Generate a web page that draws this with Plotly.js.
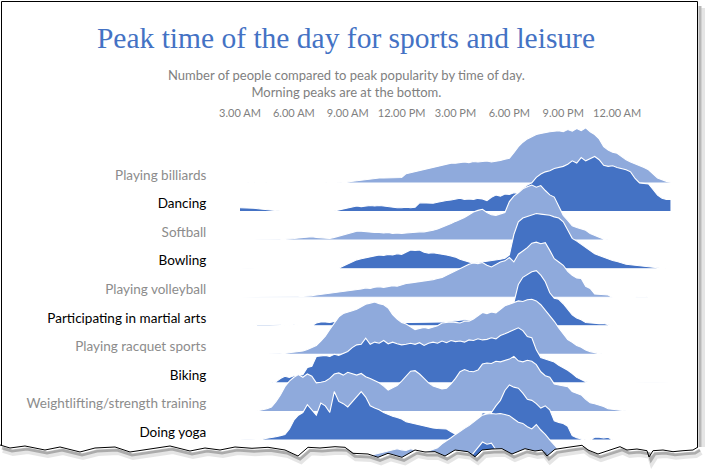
<!DOCTYPE html>
<html><head><meta charset="utf-8">
<script src="https://cdn.plot.ly/plotly-3.0.1.min.js"></script>
<style>html,body{margin:0;padding:0;background:#fff}</style>
</head><body><div id="chart" style="width:710px;height:471px"></div>
<script>
// time of day in hours (3 = 3 AM, 27 = 3 AM next day)
const hours = [3,3.25,3.5,3.75,4,4.25,4.5,4.75,5,5.25,5.5,5.75,6,6.25,6.5,6.75,7,7.25,7.5,7.75,8,8.25,8.5,8.75,9,9.25,9.5,9.75,10,10.25,10.5,10.75,11,11.25,11.5,11.75,12,12.25,12.5,12.75,13,13.25,13.5,13.75,14,14.25,14.5,14.75,15,15.25,15.5,15.75,16,16.25,16.5,16.75,17,17.25,17.5,17.75,18,18.25,18.5,18.75,19,19.25,19.5,19.75,20,20.25,20.5,20.75,21,21.25,21.5,21.75,22,22.25,22.5,22.75,23,23.25,23.5,23.75,24,24.25,24.5,24.75,25,25.25,25.5,25.75,26,26.25,26.5,26.75,27];

const activities = ["Playing billiards","Dancing","Softball","Bowling","Playing volleyball","Participating in martial arts","Playing racquet sports","Biking","Weightlifting/strength training","Doing yoga"];

const tickHours = [3,6,9,12,15,18,21,24];
const tickLabels = ["3.00 AM","6.00 AM","9.00 AM","12.00 PM","3.00 PM","6.00 PM","9.00 PM","12.00 AM"];

// share of peak popularity (0..1), quarter-hour steps
const billiards = [0.02,0.02,0,0, 0.02,0.02,0,0, 0,0,0,0, 0,0,0,0, 0,0,0,0, 0.02,0.02,0,0.01, 0.02,0.03,0.05,0.06, 0.07,0.08,0.085,0.09, 0.09,0.095,0.1,0.1, 0.1,0.17,0.19,0.21, 0.23,0.25,0.27,0.29, 0.31,0.33,0.34,0.36, 0.36,0.37,0.38,0.37, 0.39,0.38,0.39,0.40, 0.38,0.39,0.41,0.43, 0.45,0.55,0.66,0.74, 0.80,0.84,0.88,0.90, 0.92,0.93,0.94,0.95, 0.93,0.97,0.94,0.99, 0.95,1.0,0.93,0.88, 0.80,0.66,0.60,0.56, 0.54,0.48,0.42,0.38, 0.35,0.32,0.28,0.24, 0.16,0.09,0.06,0.03, 0.02];
const dancing = [0.07,0.07,0.06,0.06, 0.05,0.04,0.03,0.02, 0.02,0,0,0, 0,0,0,0, 0,0,0,0, 0,0.01,0.03,0.05, 0.06,0.08,0.1,0.09, 0.1,0.11,0.1,0.11, 0.1,0.09,0.07,0.07, 0.07,0.08,0.07,0.08, 0.16,0.16,0.16,0.15, 0.17,0.19,0.2,0.21, 0.23,0.24,0.22,0.23, 0.22,0.24,0.23,0.2, 0.26,0.3,0.28,0.32, 0.31,0.34,0.33,0.42, 0.48,0.52,0.62,0.68, 0.72,0.74,0.78,0.8, 0.82,0.86,0.92,0.88, 0.98,0.92,0.96,1.0, 0.94,0.84,0.82,0.83, 0.8,0.78,0.76,0.72, 0.6,0.52,0.51,0.5, 0.4,0.3,0.24,0.22, 0.22];
const softball = [0,0,0,0, 0,0,0,0, 0,0.01,0.02,0.02, 0.03,0.04,0.05,0.05, 0.06,0.05,0.04,0.03, 0.03,0.05,0.07,0.09, 0.11,0.13,0.16,0.16, 0.15,0.15,0.14,0.14, 0.13,0.14,0.12,0.13, 0.12,0.13,0.14,0.14, 0.15,0.15,0.16,0.18, 0.2,0.23,0.26,0.3, 0.34,0.37,0.41,0.46, 0.51,0.54,0.56,0.5, 0.46,0.45,0.47,0.5, 0.7,0.8,0.86,0.93, 0.97,1.0,0.96,0.99, 0.9,0.82,0.78,0.62, 0.45,0.36,0.26,0.23, 0.21,0.18,0.12,0.08, 0.05,0.02,0,0, 0,0,0,0, 0,0,0,0, 0,0,0,0, 0];
const bowling = [0,0,0,0, 0,0,0,0, 0,0,0,0, 0,0,0,0, 0,0,0,0, 0,0,0.01,0.05, 0.09,0.13,0.16,0.18, 0.2,0.22,0.24,0.25, 0.24,0.26,0.25,0.27, 0.26,0.3,0.34,0.33, 0.34,0.3,0.28,0.29, 0.28,0.27,0.25,0.23, 0.21,0.17,0.14,0.12, 0.1,0.11,0.12,0.14, 0.15,0.16,0.17,0.19, 0.25,0.62,0.85,0.92, 0.95,0.98,1.0,0.99, 0.98,0.97,0.94,0.92, 0.85,0.7,0.55,0.5, 0.44,0.39,0.33,0.27, 0.24,0.21,0.17,0.15, 0.13,0.1,0.08,0.07, 0.06,0.05,0.04,0.03, 0.02,0.01,0,0, 0];
const volleyball = [0,0,0,0, 0,0,0,0, 0,0,0,0, 0,0.01,0.02,0.02, 0.03,0.04,0.05,0.06, 0.07,0.08,0.09,0.1, 0.11,0.12,0.14,0.15, 0.17,0.16,0.18,0.19, 0.18,0.2,0.21,0.2, 0.23,0.25,0.26,0.27, 0.29,0.3,0.3,0.32, 0.34,0.36,0.4,0.44, 0.47,0.52,0.56,0.6, 0.62,0.61,0.63,0.58, 0.55,0.6,0.64,0.66, 0.72,0.64,0.78,0.84, 0.9,0.98,1.0,0.97, 0.99,0.85,0.7,0.64, 0.58,0.47,0.4,0.35, 0.34,0.2,0.16,0.06, 0.05,0.05,0.04,0, 0,0,0,0, 0,0.02,0.02,0, 0,0,0,0, 0];
const martialArts = [0,0,0,0, 0.03,0.03,0.03,0.02, 0.03,0.02,0,0, 0.02,0,0,0, 0,0.05,0.07,0.07, 0.06,0.08,0.1,0.12, 0.14,0.15,0.15,0.14, 0.13,0.12,0.1,0.09, 0.08,0.07,0.06,0.07, 0.06,0.06,0.06,0.06, 0.06,0.06,0.07,0.06, 0.07,0.07,0.08,0.08, 0.09,0.1,0.11,0.1, 0.12,0.14,0.16,0.18, 0.2,0.22,0.26,0.3, 0.34,0.42,0.75,0.88, 0.93,0.98,1.0,0.92, 0.8,0.6,0.5,0.48, 0.4,0.3,0.2,0.14, 0.11,0.06,0.05,0.04, 0.04,0.04,0.02,0, 0,0,0,0, 0,0,0,0, 0,0,0,0, 0];
const racquet = [0,0,0,0, 0,0,0,0, 0,0.01,0.02,0.03, 0.04,0.05,0.06,0.09, 0.12,0.16,0.24,0.33, 0.45,0.56,0.68,0.74, 0.76,0.79,0.82,0.87, 0.91,0.93,0.95,0.92, 0.9,0.84,0.72,0.64, 0.58,0.55,0.5,0.45, 0.47,0.49,0.47,0.49, 0.52,0.57,0.58,0.59, 0.58,0.57,0.6,0.6, 0.64,0.7,0.76,0.74, 0.77,0.75,0.82,0.88, 0.91,0.94,0.97,0.96, 0.99,1.0,0.97,0.9, 0.8,0.72,0.6,0.48, 0.37,0.27,0.22,0.16, 0.13,0.08,0.05,0.03, 0.01,0,0,0, 0,0,0,0, 0,0,0,0, 0,0,0,0, 0];
const biking = [0,0,0,0, 0,0,0,0, 0.02,0.08,0.12,0.1, 0.13,0.14,0.15,0.28, 0.3,0.48,0.49,0.5, 0.48,0.52,0.5,0.53, 0.57,0.64,0.69,0.7, 0.81,0.7,0.74,0.72, 0.77,0.71,0.74,0.71, 0.69,0.7,0.72,0.7, 0.73,0.68,0.72,0.74, 0.72,0.76,0.73,0.77, 0.75,0.76,0.74,0.78, 0.77,0.8,0.78,0.79, 0.82,0.8,0.86,0.89, 0.93,0.97,1.0,0.95, 0.84,0.82,0.6,0.46, 0.43,0.4,0.38,0.32, 0.28,0.23,0.17,0.1, 0.06,0.02,0.01,0.01, 0.01,0.01,0,0, 0,0,0,0, 0,0,0,0, 0,0,0,0, 0];
const weightlifting = [0.01,0,0,0, 0.01,0.03,0.05,0.08, 0.18,0.3,0.45,0.55, 0.62,0.67,0.62,0.68, 0.64,0.52,0.53,0.55, 0.6,0.68,0.7,0.66, 0.71,0.69,0.66,0.69, 0.63,0.6,0.56,0.52, 0.46,0.39,0.43,0.47, 0.55,0.65,0.73,0.74, 0.68,0.6,0.52,0.46, 0.43,0.41,0.42,0.5, 0.6,0.72,0.76,0.73, 0.72,0.75,0.86,0.88, 0.87,0.91,0.9,0.93, 0.95,1.0,0.92,0.9, 0.93,0.91,0.85,0.72, 0.65,0.62,0.5,0.48, 0.46,0.45,0.36,0.33, 0.3,0.22,0.16,0.14, 0.12,0.09,0.05,0.04, 0.03,0.01,0,0, 0,0.01,0.01,0, 0.01,0.01,0.01,0.01, 0];
const yoga = [0,0,0,0, 0.01,0.02,0.03,0.05, 0.06,0.08,0.1,0.2, 0.36,0.45,0.5,0.64, 0.55,0.45,0.67,0.62, 0.5,0.88,0.7,0.66, 0.6,0.7,0.8,0.88, 0.78,0.62,0.58,0.55, 0.5,0.46,0.43,0.41, 0.38,0.33,0.31,0.29, 0.28,0.26,0.23,0.22, 0.21,0.2,0.2,0.15, 0.1,0.06,0.05,0.1, 0.2,0.35,0.5,0.48, 0.5,0.62,0.72,0.9, 1.0,0.96,0.94,0.85, 0.74,0.72,0.66,0.58, 0.62,0.55,0.35,0.32, 0.3,0.25,0.08,0.04, 0.02,0,0,0.05, 0.05,0.04,0.05,0, 0,0,0,0, 0,0,0,0, 0,0,0,0, 0];
// rows continuing below the torn edge (only their peaks show)
const hiddenRow1 = [0,0,0,0, 0,0,0,0, 0,0,0,0, 0,0,0,0, 0,0.02,0.04,0.06, 0.08,0.1,0.12,0.14, 0.15,0.16,0.18,0.2, 0.22,0.24,0.26,0.28, 0.3,0.32,0.35,0.36, 0.34,0.33,0.36,0.34, 0.3,0.3,0.32,0.35, 0.38,0.45,0.5,0.56, 0.62,0.68,0.73,0.78, 0.84,0.9,0.97,0.99, 1.0,0.99,1.0,0.98, 0.96,0.9,0.84,0.82, 0.76,0.72,0.8,0.7, 0.62,0.52,0.42,0.34, 0.26,0.2,0.14,0.1, 0.06,0.03,0.01,0, 0,0,0,0, 0,0,0,0, 0,0,0,0, 0,0,0,0, 0];
const hiddenRow2 = [0,0,0,0, 0,0,0,0, 0,0,0,0, 0,0,0,0, 0,0,0,0, 0,0,0,0, 0,0,0,0, 0,0,0,0, 0,0,0,0, 0,0,0,0, 0,0,0,0, 0.2,0.25,0.3,0.38, 0.45,0.52,0.6,0.7, 0.8,0.92,1.0,0.96, 0.98,0.86,0.75,0.65, 0.55,0.48,0.42,0.36, 0.3,0.25,0.2,0.15, 0.1,0.06,0.03,0, 0,0,0,0, 0,0,0,0, 0,0,0,0, 0,0,0,0, 0,0,0,0, 0,0,0,0, 0];

const series = [billiards,dancing,softball,bowling,volleyball,martialArts,racquet,biking,weightlifting,yoga,hiddenRow1,hiddenRow2];

const LIGHT = '#8FAADC', DARK = '#4472C4';
const AMP = 1.93;   // ridge height in row units

const traces = series.map((vals, i) => {
  const base = -i;
  const x = hours.concat(hours.slice().reverse());
  const y = vals.map(v => base + AMP * v).concat(hours.map(() => base));
  return {type:'scatter', mode:'lines', x:x, y:y, fill:'toself',
    fillcolor: i % 2 ? DARK : LIGHT, line:{color:'#ffffff', width:1.1},
    hoverinfo:'skip', showlegend:false};
});

const W = 710, H = 471, L = 240, R = 39, T = 120, B = 11;
const pw = W - L - R, ph = H - T - B;
const px = x => (x - L) / pw;
const py = y => (H - B - y) / ph;
const toPath = (pts, close) => 'M' + pts.map(p => px(p[0]).toFixed(5) + ',' + py(p[1]).toFixed(5)).join('L') + (close ? 'Z' : '');

const torn = [[0,445],[10,448],[25,446],[45,450],[60,447],[80,452],[95,448],[115,447],[130,452],[150,449],[170,446],[190,451],[205,448],[220,450],[235,447],[252,448.3],[268,447.3],[285,450],[298,456],[308,447.3],[320,448],[335,446.7],[345,447.3],[353,453.3],[368,454],[378,457.3],[388,453.3],[402,457.3],[415,450],[425,452],[435,451.7],[445,456],[455,450],[468,451.7],[475,456.7],[482,450],[492,449],[502,448.7],[512,454],[525,448.7],[535,451],[542,450],[547,456],[555,449.3],[568,447.3],[582,445.3],[588,450],[598,454],[610,450],[620,446.7],[627,450],[637,449],[647,450.7],[649,457],[653,450.7],[663,450],[673,451.7],[683,450.7],[693,450],[698,447]];
const shifted = (dx, dy) => torn.map(p => [p[0] + dx, p[1] + dy]);
const cover = torn.concat([[712,447],[712,474],[-2,474],[-2,445]]);

const shapes = [
  {type:'rect', xref:'paper', yref:'paper', x0:px(698.5), x1:px(701.5), y0:py(6), y1:py(452), fillcolor:'rgba(0,0,0,0.28)', line:{width:0}, layer:'above'},
  {type:'rect', xref:'paper', yref:'paper', x0:px(701.5), x1:px(705), y0:py(8), y1:py(452), fillcolor:'rgba(0,0,0,0.10)', line:{width:0}, layer:'above'},
  {type:'rect', xref:'paper', yref:'paper', x0:px(1.5), x1:px(697.5), y0:py(1.5), y1:py(470), fillcolor:'rgba(0,0,0,0)', line:{color:'#000', width:1}, layer:'above'},
  {type:'path', xref:'paper', yref:'paper', path:toPath(cover, true), fillcolor:'#ffffff', line:{width:0}, layer:'above'},
  {type:'path', xref:'paper', yref:'paper', path:toPath(shifted(3,5)), line:{color:'rgba(0,0,0,0.10)', width:6}, layer:'above'},
  {type:'path', xref:'paper', yref:'paper', path:toPath(shifted(2,3)), line:{color:'rgba(0,0,0,0.25)', width:3}, layer:'above'},
  {type:'path', xref:'paper', yref:'paper', path:toPath(torn), line:{color:'#000', width:1}, layer:'above'}
];

const rowTicks = activities.map((_, i) => -i + 0.28);
const rowText = activities.map((a, i) => i % 2 ? a : '<span style="color:#8c8c8c">' + a + '</span>');

const layout = {
  width: W, height: H,
  margin: {l:L, r:R, t:T, b:B, pad:0},
  paper_bgcolor:'#ffffff', plot_bgcolor:'rgba(0,0,0,0)',
  showlegend:false,
  title: {text:'Peak time of the day for sports and leisure',
    font:{family:'Liberation Serif, serif', size:29.5, color:'#4472C4'},
    xref:'container', yref:'container', x:346/W, xanchor:'center', y:1-38/H, yanchor:'middle'},
  xaxis: {range:[3,27], side:'top', tickvals:tickHours, ticktext:tickLabels, showgrid:false, zeroline:false, showline:false, ticks:'',
    tickfont:{family:'Lato, sans-serif', size:11, color:'#7f7f7f'}, fixedrange:true},
  yaxis: {range:[-9.699, 2.206], tickvals:rowTicks, ticktext:rowText, showgrid:false, zeroline:false, showline:false,
    ticks:'outside', ticklen:30, tickcolor:'rgba(0,0,0,0)',
    tickfont:{family:'Lato, sans-serif', size:13.5, color:'#000000'}, fixedrange:true},
  annotations: [{xref:'paper', yref:'paper', x:px(346.5), y:py(83.5), xanchor:'center', yanchor:'middle', showarrow:false,
    text:'Number of people compared to peak popularity by time of day.<br>Morning peaks are at the bottom.',
    font:{family:'Lato, sans-serif', size:13, color:'#7f7f7f'}}],
  shapes: shapes
};

Plotly.newPlot('chart', traces, layout, {displayModeBar:false, staticPlot:true});
</script>
</body></html>
